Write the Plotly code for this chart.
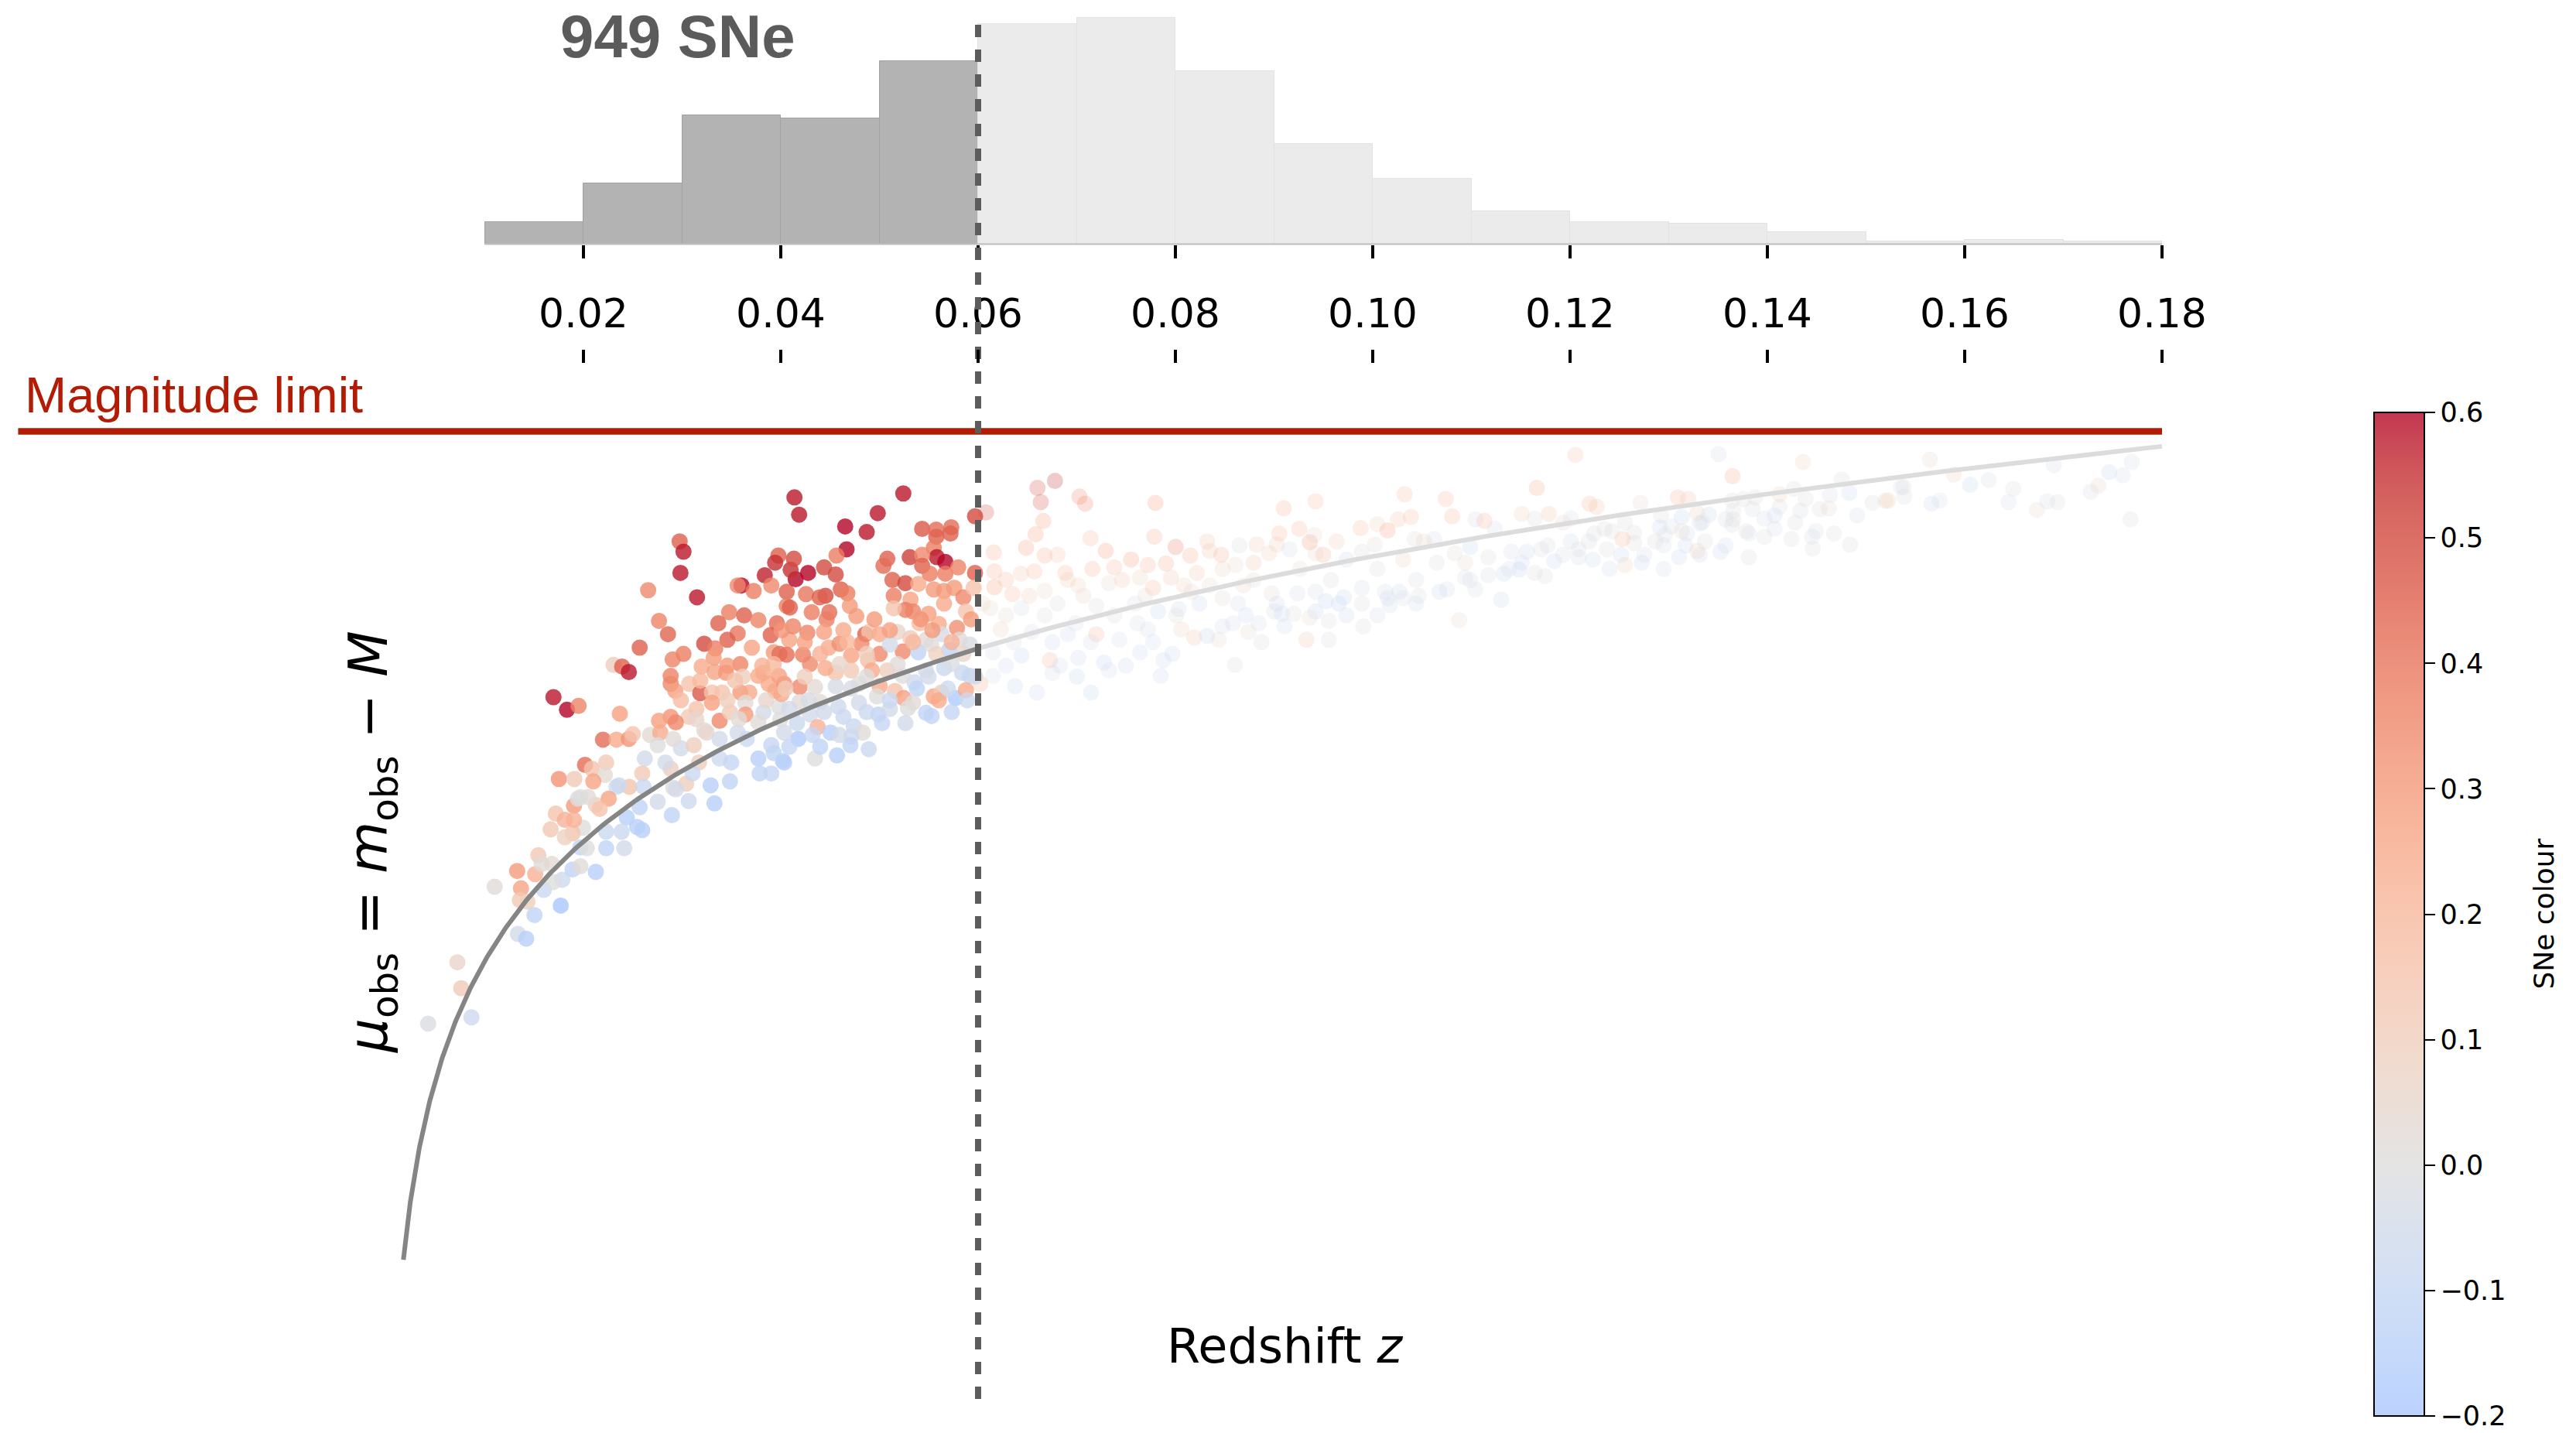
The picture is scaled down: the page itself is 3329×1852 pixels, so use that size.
import numpy as np
import plotly.graph_objects as go

# ---------------------------------------------------------------------------
# Redshift histogram of the full sample (counts per 0.01 bin)
# ---------------------------------------------------------------------------
hist_bin_left = [0.01, 0.02, 0.03, 0.04, 0.05, 0.06, 0.07, 0.08, 0.09,
                 0.10, 0.11, 0.12, 0.13, 0.14, 0.15, 0.16, 0.17]
hist_counts = [15, 41, 87, 85, 124, 149, 153, 117, 68, 44, 22, 15, 14, 8, 2, 3, 2]
HIST_BIN_WIDTH = 0.01

z_ticks = [0.02, 0.04, 0.06, 0.08, 0.10, 0.12, 0.14, 0.16, 0.18]
z_tick_text = ["0.02", "0.04", "0.06", "0.08", "0.10", "0.12", "0.14", "0.16", "0.18"]

colour_ticks = [-0.2, -0.1, 0.0, 0.1, 0.2, 0.3, 0.4, 0.5, 0.6]
colour_tick_text = ["\u22120.2", "\u22120.1", "0.0", "0.1", "0.2", "0.3", "0.4", "0.5", "0.6"]

Z_CUT = 0.06        # volume-limited cut
MAG_LIMIT = 39.91   # survey magnitude limit (in distance-modulus units)
COLOUR_MIN, COLOUR_MAX = -0.2, 0.6

# ---------------------------------------------------------------------------
# Supernovae inside the cut: redshift, distance modulus, colour
# ---------------------------------------------------------------------------
low_z = [
    0.02975, 0.03014, 0.02983, 0.02656, 0.03151, 0.03976, 0.03943, 0.03838, 0.03602, 0.03563,
    0.03725, 0.03904, 0.04060, 0.04060, 0.03477, 0.03629, 0.03773, 0.03367, 0.03961, 0.03563,
    0.03459, 0.03898, 0.03707, 0.04086, 0.02766, 0.02857, 0.03224, 0.03336, 0.02570, 0.03014,
    0.02904, 0.03320, 0.03198, 0.03590, 0.03929, 0.03987, 0.03328, 0.03445, 0.03616, 0.03825,
    0.02884, 0.02884, 0.02304, 0.02392, 0.02460, 0.02931, 0.03072, 0.03184, 0.03302, 0.03406,
    0.03590, 0.03681, 0.03773, 0.03943, 0.04034, 0.03877, 0.03642, 0.03302, 0.03642, 0.03145,
    0.03067, 0.02884, 0.02766, 0.02936, 0.03380, 0.03224, 0.03485, 0.03825, 0.03982, 0.01696,
    0.01833, 0.01951, 0.02369, 0.02198, 0.02335, 0.02460, 0.02500, 0.02675, 0.02779, 0.02622,
    0.02753, 0.02988, 0.03119, 0.03249, 0.03563, 0.03380, 0.03773, 0.03904, 0.04021, 0.03485,
    0.03289, 0.03328, 0.03067, 0.02896, 0.02753, 0.02570, 0.02439, 0.02596, 0.02335, 0.02465,
    0.02596, 0.02884, 0.02016, 0.02086, 0.02230, 0.02217, 0.02100, 0.01751, 0.01908, 0.01904,
    0.01969, 0.02125, 0.02256, 0.01720, 0.01812, 0.01668, 0.01995, 0.01890, 0.03171, 0.03904,
    0.04034, 0.03773, 0.02361, 0.02609, 0.02910, 0.03041, 0.03786, 0.02544, 0.02387, 0.02413,
    0.02230, 0.02230, 0.02165, 0.02047, 0.01943, 0.01904, 0.01812, 0.01969, 0.02034, 0.01543,
    0.01328, 0.01511, 0.01576, 0.01681, 0.01786, 0.01890, 0.01969, 0.02125, 0.01598, 0.01694,
    0.01367, 0.01355, 0.01433, 0.01100, 0.01770, 0.01504, 0.01336, 0.01420, 0.00722, 0.00761,
    0.00865, 0.00426, 0.02936, 0.04139, 0.04186, 0.05242, 0.04983, 0.04653, 0.04871, 0.04667,
    0.05433, 0.05576, 0.05728, 0.05720, 0.05576, 0.05551, 0.05582, 0.05668, 0.05307, 0.05080,
    0.05041, 0.04565, 0.04439, 0.04557, 0.04277, 0.04151, 0.04100, 0.04133, 0.04256, 0.04453,
    0.04395, 0.04609, 0.04675, 0.04092, 0.04314, 0.04492, 0.04465, 0.04700, 0.04766, 0.04125,
    0.04269, 0.04439, 0.04060, 0.04225, 0.04296, 0.04486, 0.04596, 0.04857, 0.04896, 0.05002,
    0.04818, 0.05002, 0.04714, 0.04884, 0.05132, 0.05263, 0.05145, 0.05315, 0.05394, 0.05263,
    0.05341, 0.05145, 0.05433, 0.05433, 0.05511, 0.05668, 0.05798, 0.05969, 0.05551, 0.05655,
    0.05759, 0.05851, 0.05955, 0.05655, 0.05877, 0.05498, 0.05406, 0.05602, 0.05786, 0.05184,
    0.05315, 0.05472, 0.05629, 0.05812, 0.05916, 0.05237, 0.05106, 0.05394, 0.05524, 0.05707,
    0.05655, 0.05838, 0.05916, 0.05472, 0.05355, 0.05237, 0.05080, 0.04923, 0.04714, 0.04557,
    0.04453, 0.04191, 0.03982, 0.04008, 0.04347, 0.04557, 0.04792, 0.05002, 0.05158, 0.05380,
    0.05551, 0.05629, 0.05773, 0.05877, 0.05245, 0.04975, 0.04792, 0.04583, 0.04400, 0.04191,
    0.04086, 0.03995, 0.04296, 0.04374, 0.04504, 0.04635, 0.04740, 0.04831, 0.04714, 0.04988,
    0.05106, 0.05289, 0.05341, 0.05472, 0.05529, 0.05602, 0.04178, 0.04034, 0.03929, 0.04347,
    0.04570, 0.04706, 0.04892, 0.05969,
]
low_mu = [
    38.51, 38.38, 38.11, 37.89, 37.80, 38.33, 38.24, 38.08, 37.95, 37.95,
    37.88, 37.95, 37.87, 37.69, 37.61, 37.57, 37.51, 37.47, 37.47, 37.34,
    37.26, 37.32, 37.16, 37.26, 37.50, 37.33, 37.21, 37.15, 37.16, 37.08,
    37.01, 37.03, 36.92, 36.95, 37.10, 37.08, 36.85, 36.84, 36.79, 36.84,
    36.80, 36.70, 36.94, 36.92, 36.85, 36.61, 36.70, 36.58, 36.59, 36.59,
    36.59, 36.59, 36.80, 36.61, 36.70, 36.70, 36.46, 36.46, 36.31, 36.38,
    36.28, 36.28, 36.23, 36.21, 36.23, 36.11, 36.34, 36.34, 36.41, 36.53,
    36.37, 36.42, 36.32, 35.99, 35.99, 36.00, 36.06, 36.05, 36.08, 35.75,
    35.92, 35.88, 35.92, 36.08, 36.08, 35.75, 35.75, 35.92, 35.72, 35.46,
    35.41, 35.18, 35.21, 35.03, 35.20, 35.13, 35.00, 34.84, 35.39, 35.39,
    35.56, 35.62, 35.67, 35.62, 35.70, 35.54, 35.46, 35.49, 35.49, 35.15,
    35.26, 35.16, 35.24, 35.05, 34.97, 34.85, 34.87, 34.80, 35.70, 35.56,
    36.08, 36.21, 35.41, 35.39, 35.38, 35.43, 35.56, 34.88, 34.82, 34.61,
    34.61, 34.82, 35.11, 35.26, 35.24, 34.97, 34.75, 34.62, 34.61, 34.52,
    34.32, 34.28, 34.41, 34.41, 34.21, 34.34, 34.38, 34.31, 34.08, 34.18,
    34.10, 33.95, 33.93, 34.12, 33.88, 33.76, 33.52, 33.46, 33.16, 32.83,
    32.46, 32.38, 35.36, 39.07, 38.85, 39.12, 38.87, 38.70, 38.63, 38.41,
    38.67, 38.66, 38.69, 38.61, 38.57, 38.43, 38.31, 38.25, 38.31, 38.29,
    38.20, 38.33, 38.18, 38.09, 38.11, 38.03, 38.15, 38.29, 37.84, 37.82,
    37.80, 37.90, 37.85, 37.67, 37.61, 37.61, 37.52, 37.69, 37.56, 37.43,
    37.35, 37.36, 37.07, 37.07, 36.95, 37.16, 37.21, 37.33, 37.36, 37.33,
    37.21, 37.08, 37.06, 37.00, 38.02, 37.98, 37.82, 37.77, 37.97, 37.64,
    37.62, 37.66, 38.34, 38.20, 38.10, 38.10, 38.18, 38.11, 37.90, 37.88,
    37.92, 37.80, 37.92, 37.72, 37.62, 37.59, 37.47, 37.46, 37.41, 37.36,
    37.28, 37.26, 37.33, 37.26, 37.20, 37.11, 37.20, 37.10, 37.20, 37.13,
    36.90, 36.84, 36.80, 36.87, 36.72, 36.80, 36.87, 36.87, 36.87, 36.84,
    36.90, 36.66, 36.80, 36.57, 36.66, 36.67, 36.70, 36.67, 36.61, 36.64,
    36.54, 36.59, 36.52, 36.62, 36.52, 36.54, 36.46, 36.41, 36.47, 36.47,
    36.38, 36.25, 36.31, 36.15, 36.08, 36.28, 36.16, 36.08, 36.03, 36.31,
    36.38, 36.39, 36.46, 36.33, 36.29, 36.49, 36.00, 35.70, 35.82, 35.75,
    35.79, 35.92, 35.87, 38.83,
]
low_colour = [
    0.45, 0.58, 0.58, 0.35, 0.58, 0.45, 0.55, 0.57, 0.60, 0.35,
    0.38, 0.35, 0.45, 0.38, 0.38, 0.45, 0.36, 0.45, 0.42, 0.40,
    0.45, 0.45, 0.27, 0.27, 0.36, 0.44, 0.50, 0.38, 0.45, 0.38,
    0.36, 0.30, 0.25, 0.36, 0.30, 0.42, 0.27, 0.30, 0.10, 0.25,
    0.37, 0.35, 0.10, 0.45, 0.58, 0.28, 0.15, 0.47, 0.15, 0.15,
    0.30, 0.25, 0.25, 0.27, 0.33, 0.25, 0.02, 0.28, 0.30, 0.15,
    0.12, 0.32, 0.28, 0.35, 0.35, 0.02, 0.12, -0.05, 0.00, 0.58,
    0.60, 0.36, 0.28, 0.42, 0.25, 0.32, 0.15, 0.03, 0.25, -0.05,
    0.00, -0.05, 0.10, 0.05, -0.05, -0.07, -0.15, -0.10, -0.12, -0.12,
    -0.15, -0.15, -0.07, -0.12, -0.05, -0.12, -0.15, -0.15, -0.07, 0.15,
    0.12, 0.10, 0.42, 0.15, 0.12, 0.03, 0.27, 0.32, 0.12, 0.30,
    0.00, 0.10, 0.27, 0.15, 0.22, 0.13, 0.00, 0.15, 0.10, -0.10,
    -0.05, 0.02, -0.08, -0.08, 0.00, 0.10, -0.12, -0.15, -0.08, -0.05,
    -0.12, -0.08, 0.15, 0.02, 0.00, 0.22, 0.08, -0.12, 0.00, 0.13,
    0.30, 0.22, 0.02, 0.03, -0.07, -0.12, 0.02, -0.15, -0.08, 0.00,
    0.27, 0.12, 0.10, 0.02, -0.20, -0.12, -0.05, -0.15, 0.06, 0.12,
    -0.07, -0.02, -0.05, 0.58, 0.58, 0.58, 0.58, 0.60, 0.58, 0.60,
    0.47, 0.42, 0.42, 0.45, 0.45, 0.38, 0.58, 0.60, 0.52, 0.45,
    0.42, 0.38, 0.50, 0.50, 0.60, 0.60, 0.55, 0.50, 0.40, 0.50,
    0.45, 0.45, 0.38, 0.45, 0.38, 0.42, 0.38, 0.30, 0.30, 0.36,
    0.36, 0.28, 0.42, 0.38, 0.35, 0.25, 0.33, 0.45, 0.15, 0.25,
    0.35, 0.35, 0.27, 0.18, 0.45, 0.50, 0.38, 0.27, 0.25, 0.38,
    0.36, 0.15, 0.35, 0.45, 0.38, 0.38, 0.36, 0.45, 0.30, 0.30,
    0.30, 0.35, 0.15, 0.25, 0.15, 0.28, 0.18, 0.25, 0.33, 0.05,
    0.12, 0.03, -0.03, 0.02, -0.03, 0.35, -0.05, -0.12, 0.00, -0.12,
    -0.08, -0.08, -0.10, -0.05, -0.07, 0.00, 0.10, 0.25, 0.12, 0.15,
    0.25, 0.35, 0.28, 0.25, 0.03, -0.03, 0.02, 0.25, 0.15, -0.12,
    0.27, 0.12, -0.18, 0.25, 0.28, 0.00, -0.05, -0.07, 0.02, 0.02,
    -0.05, 0.00, -0.05, 0.22, -0.15, -0.08, -0.08, 0.02, -0.07, -0.12,
    -0.05, 0.00, 0.02, -0.12, -0.12, 0.25, -0.18, -0.15, -0.12, 0.00,
    -0.15, -0.12, -0.08, 0.50,
]

# densely overlapping supernovae in the core of the inner cloud
low_core_z = [
    0.04949, 0.05420, 0.05929, 0.04008, 0.04635, 0.05106, 0.05537, 0.04243, 0.04675, 0.05341,
    0.05733, 0.04400, 0.04871, 0.05576, 0.05851, 0.03929, 0.04596, 0.05184, 0.05733, 0.04243,
    0.04871, 0.05498, 0.05969, 0.04047, 0.04714, 0.05694, 0.04282, 0.05106, 0.05890, 0.04439,
    0.04871, 0.05733, 0.04165, 0.05027, 0.05263, 0.04322, 0.04596, 0.04086, 0.04400, 0.03459,
    0.03812, 0.03184, 0.03537, 0.02988, 0.03459, 0.03851, 0.03145, 0.03576, 0.02910, 0.03380,
    0.03655, 0.02831, 0.03498, 0.03106,
]
low_core_mu = [
    37.52, 37.52, 37.52, 37.38, 37.38, 37.38, 37.38, 37.23, 37.23, 37.23,
    37.23, 37.08, 37.08, 37.08, 37.08, 36.95, 36.95, 36.95, 36.95, 36.79,
    36.79, 36.79, 36.79, 36.64, 36.64, 36.64, 36.49, 36.49, 36.49, 36.34,
    36.34, 36.34, 36.20, 36.20, 36.20, 36.05, 36.05, 35.90, 35.90, 36.93,
    36.93, 36.74, 36.74, 36.49, 36.49, 36.49, 36.25, 36.25, 36.00, 36.00,
    36.00, 35.70, 35.70, 35.56,
]
low_core_colour = [
    0.30, 0.32, 0.30, 0.32, 0.25, 0.28, 0.30, 0.28, 0.20, 0.20,
    0.22, 0.22, 0.10, 0.08, 0.05, 0.20, 0.05, 0.02, -0.02, 0.10,
    0.00, -0.05, -0.05, 0.12, -0.03, -0.07, -0.03, -0.08, -0.08, -0.06,
    -0.08, -0.10, -0.08, -0.10, -0.05, -0.10, -0.05, -0.10, -0.12, 0.30,
    0.22, 0.20, 0.15, 0.18, 0.10, 0.05, 0.05, 0.02, 0.02, -0.05,
    -0.08, -0.05, -0.10, -0.08,
]

# ---------------------------------------------------------------------------
# Supernovae beyond the cut (shown faded)
# ---------------------------------------------------------------------------
high_z = [
    0.06779, 0.06602, 0.06635, 0.06081, 0.07027, 0.07085, 0.06661, 0.06583, 0.07140, 0.07798,
    0.07786, 0.06159, 0.06486, 0.06675, 0.06805, 0.07294, 0.07551, 0.06165, 0.06434, 0.06570,
    0.06884, 0.07158, 0.07380, 0.07720, 0.06165, 0.06348, 0.06675, 0.07014, 0.07328, 0.07642,
    0.06125, 0.06439, 0.06805, 0.07198, 0.07590, 0.06230, 0.06544, 0.06910, 0.07198, 0.07433,
    0.07720, 0.06151, 0.06439, 0.06727, 0.07014, 0.07276, 0.07642, 0.07851, 0.06151, 0.06374,
    0.06753, 0.07002, 0.07328, 0.06021, 0.06047, 0.08002, 0.08151, 0.07904, 0.08347, 0.08465,
    0.09098, 0.09420, 0.10322, 0.10740, 0.11511, 0.08649, 0.08824, 0.09053, 0.09255, 0.09362,
    0.09406, 0.09634, 0.09877, 0.10047, 0.10151, 0.10256, 0.10387, 0.10805, 0.11041, 0.11132,
    0.11237, 0.09498, 0.09158, 0.09027, 0.08609, 0.08792, 0.09733, 0.09890, 0.10021, 0.10426,
    0.10622, 0.10988, 0.10649, 0.10308, 0.10936, 0.11171, 0.11406, 0.11511, 0.11328, 0.11171,
    0.10936, 0.10753, 0.11041, 0.11302, 0.10465, 0.10308, 0.10269, 0.10151, 0.10173, 0.09890,
    0.09890, 0.09655, 0.09707, 0.09524, 0.09420, 0.09362, 0.09555, 0.09904, 0.10876, 0.09328,
    0.09555, 0.08602, 0.07877, 0.07969, 0.08191, 0.08439, 0.08322, 0.08740, 0.08583, 0.08845,
    0.09080, 0.09002, 0.09198, 0.08975, 0.09237, 0.08478, 0.08243, 0.08034, 0.07825, 0.08086,
    0.08347, 0.08688, 0.07955, 0.08217, 0.07773, 0.08060, 0.12053, 0.11663, 0.13506, 0.13647,
    0.14361, 0.11786, 0.11642, 0.12008, 0.12198, 0.12269, 0.13093, 0.13198, 0.13642, 0.13759,
    0.13877, 0.14125, 0.14269, 0.14387, 0.14635, 0.14753, 0.14831, 0.15198, 0.15380, 0.14622,
    0.14531, 0.14335, 0.14910, 0.14125, 0.14073, 0.13969, 0.13851, 0.13655, 0.13642, 0.13406,
    0.13315, 0.13289, 0.13132, 0.12923, 0.12910, 0.13027, 0.13132, 0.13367, 0.13524, 0.13315,
    0.13289, 0.13171, 0.12962, 0.12863, 0.12727, 0.12753, 0.12649, 0.12557, 0.12518, 0.12649,
    0.12531, 0.12374, 0.12426, 0.12348, 0.12230, 0.12191, 0.12086, 0.12008, 0.11929, 0.11838,
    0.11707, 0.11563, 0.11485, 0.11642, 0.11747, 0.13576, 0.13655, 0.13786, 0.13969, 0.14073,
    0.14243, 0.14453, 0.14492, 0.14461, 0.14839, 0.15647, 0.15890, 0.15355, 0.15388, 0.15224,
    0.15663, 0.15747, 0.16055, 0.16243, 0.16492, 0.16445, 0.16732, 0.16837, 0.16941, 0.16904,
    0.17276, 0.17355, 0.17464, 0.17602, 0.17694, 0.17681,
]
high_mu = [
    39.28, 39.19, 39.01, 38.88, 39.08, 38.99, 38.77, 38.60, 38.55, 39.00,
    38.57, 38.37, 38.43, 38.33, 38.34, 38.39, 38.28, 38.13, 38.10, 38.13,
    38.11, 38.16, 38.18, 38.21, 37.93, 37.84, 37.88, 37.95, 37.98, 38.05,
    37.66, 37.66, 37.72, 37.69, 37.72, 37.39, 37.36, 37.33, 37.33, 37.26,
    37.39, 37.10, 37.06, 37.00, 37.03, 36.97, 37.10, 36.80, 36.80, 36.67,
    36.84, 36.79, 36.87, 36.70, 37.72, 38.44, 38.33, 38.23, 38.39, 38.34,
    38.93, 39.02, 39.11, 39.05, 38.86, 38.46, 38.47, 38.61, 38.67, 38.50,
    38.59, 38.51, 38.68, 38.73, 38.65, 38.79, 38.82, 38.83, 38.79, 38.77,
    38.67, 38.34, 38.41, 38.47, 38.21, 38.24, 38.28, 38.38, 38.47, 38.54,
    38.54, 38.44, 38.24, 38.28, 38.24, 38.31, 38.38, 38.24, 38.10, 38.08,
    38.05, 37.90, 37.90, 37.77, 37.82, 37.79, 37.87, 37.79, 37.70, 37.72,
    37.92, 37.72, 37.80, 37.75, 37.62, 37.54, 37.50, 37.43, 37.51, 37.26,
    37.26, 36.94, 37.00, 37.08, 37.29, 37.26, 37.31, 37.36, 37.47, 37.47,
    37.59, 37.62, 37.59, 37.85, 37.85, 37.79, 37.72, 37.65, 37.62, 37.95,
    37.95, 37.95, 38.05, 38.11, 37.92, 37.39, 39.61, 39.19, 39.62, 39.34,
    39.52, 38.86, 38.80, 38.80, 38.99, 38.95, 39.07, 39.05, 39.03, 39.05,
    39.07, 39.11, 39.18, 39.05, 39.10, 39.30, 39.13, 39.03, 39.20, 38.93,
    38.92, 38.90, 38.84, 38.95, 38.84, 38.80, 38.92, 38.79, 38.72, 38.85,
    38.74, 38.87, 38.82, 38.84, 38.69, 38.70, 38.64, 38.51, 38.38, 38.34,
    38.39, 38.46, 38.59, 38.51, 38.24, 38.34, 38.62, 38.21, 38.34, 38.49,
    38.54, 38.41, 38.64, 38.67, 38.28, 38.51, 38.41, 38.51, 38.34, 38.26,
    38.41, 38.38, 38.15, 38.11, 38.07, 38.79, 38.90, 38.64, 38.57, 38.67,
    38.54, 38.57, 38.64, 38.42, 38.47, 39.55, 39.36, 39.20, 39.08, 39.03,
    38.99, 39.03, 39.23, 39.29, 39.18, 39.01, 38.91, 39.02, 39.01, 39.48,
    39.14, 39.22, 39.39, 39.35, 39.52, 38.79,
]
high_colour = [
    0.55, 0.50, 0.50, 0.50, 0.35, 0.35, 0.30, 0.30, 0.20, 0.30,
    0.25, 0.25, 0.30, 0.25, 0.15, 0.30, 0.30, 0.25, 0.15, 0.20,
    0.20, 0.22, 0.20, 0.22, 0.30, 0.20, 0.05, 0.10, 0.05, 0.10,
    0.05, -0.05, 0.00, 0.00, -0.05, 0.10, -0.05, -0.08, 0.20, -0.05,
    -0.05, -0.05, -0.10, 0.20, -0.08, -0.10, -0.08, -0.08, -0.05, -0.10,
    -0.05, -0.10, -0.05, 0.25, 0.05, 0.38, 0.25, 0.25, 0.15, 0.22,
    0.22, 0.18, 0.18, 0.20, 0.10, 0.00, 0.12, 0.20, 0.20, 0.30,
    0.05, 0.12, 0.18, 0.10, 0.28, 0.15, 0.18, 0.20, -0.05, 0.20,
    -0.05, 0.22, -0.05, 0.10, 0.05, 0.15, -0.08, 0.00, 0.02, 0.00,
    -0.05, -0.10, 0.00, 0.10, 0.05, 0.00, -0.05, -0.08, -0.10, -0.03,
    -0.03, -0.05, -0.02, -0.07, 0.00, -0.02, -0.07, -0.08, -0.06, 0.00,
    -0.05, -0.12, -0.10, -0.10, -0.10, 0.05, 0.00, 0.00, 0.05, 0.15,
    0.00, 0.00, -0.08, -0.08, 0.15, 0.05, -0.10, 0.05, -0.05, -0.05,
    -0.10, -0.03, 0.00, 0.05, -0.05, 0.02, -0.08, -0.07, -0.10, 0.10,
    0.05, 0.08, 0.15, 0.15, 0.20, 0.10, 0.15, 0.25, -0.05, 0.25,
    0.10, 0.15, 0.00, -0.05, 0.20, 0.15, 0.20, 0.15, 0.00, 0.00,
    0.00, 0.10, 0.00, 0.00, -0.05, 0.00, -0.08, 0.10, 0.00, 0.05,
    0.00, -0.03, -0.05, 0.00, -0.08, -0.05, -0.03, 0.00, 0.00, -0.10,
    -0.08, 0.10, -0.10, 0.00, -0.08, -0.05, 0.05, 0.00, -0.08, -0.07,
    0.10, -0.07, -0.03, 0.00, -0.08, -0.05, 0.00, 0.10, -0.08, 0.00,
    0.20, 0.00, 0.00, 0.00, -0.07, 0.00, 0.00, -0.07, -0.03, -0.08,
    0.00, -0.07, -0.10, 0.00, 0.00, -0.03, 0.00, 0.00, 0.00, -0.05,
    0.00, -0.05, -0.05, 0.00, 0.00, 0.05, 0.10, -0.05, -0.02, 0.10,
    -0.08, -0.05, -0.10, -0.02, 0.00, -0.05, 0.05, -0.05, 0.00, -0.05,
    -0.05, 0.08, -0.10, -0.05, -0.05, 0.00,
]

# densely overlapping supernovae in the band around the model beyond the cut
high_core_z = [
    0.06282, 0.06910, 0.07459, 0.06518, 0.07067, 0.07694, 0.06282, 0.06675, 0.07380, 0.06988,
    0.07616, 0.06361, 0.06753, 0.07145, 0.07773, 0.06282, 0.06831, 0.07498, 0.06596, 0.07145,
    0.08322, 0.10518, 0.08949, 0.09420, 0.10831, 0.08478, 0.09263, 0.10047, 0.11380, 0.08792,
    0.09576, 0.10439, 0.10988, 0.08165, 0.09420, 0.10125, 0.10675, 0.08635, 0.09027, 0.10439,
    0.08008, 0.08714, 0.09733, 0.10047, 0.08478, 0.09106, 0.08871, 0.12714, 0.15067, 0.11929,
    0.12557, 0.13341, 0.14282, 0.12243, 0.13184, 0.13812, 0.14675, 0.11773, 0.12949, 0.13576,
    0.12086, 0.13106, 0.13812, 0.12400, 0.12949,
]
high_core_mu = [
    38.02, 38.02, 38.02, 37.82, 37.82, 37.82, 37.57, 37.57, 37.57, 37.47,
    37.47, 37.23, 37.23, 37.23, 37.23, 36.93, 36.93, 36.93, 36.59, 36.59,
    38.51, 38.51, 38.36, 38.36, 38.36, 38.16, 38.16, 38.16, 38.16, 38.02,
    38.02, 38.02, 38.02, 37.87, 37.87, 37.87, 37.87, 37.72, 37.72, 37.72,
    37.57, 37.57, 37.57, 37.57, 37.43, 37.43, 37.23, 39.00, 39.00, 38.75,
    38.75, 38.75, 38.75, 38.61, 38.61, 38.61, 38.61, 38.46, 38.46, 38.46,
    38.31, 38.31, 38.31, 38.16, 38.16,
]
high_core_colour = [
    0.20, 0.12, 0.15, 0.12, 0.08, 0.05, 0.05, 0.00, -0.02, -0.05,
    -0.03, -0.05, -0.08, -0.05, -0.06, -0.08, -0.06, -0.08, -0.08, -0.10,
    0.15, 0.08, 0.10, 0.05, 0.02, 0.10, 0.05, 0.00, -0.05, 0.02,
    0.00, -0.03, -0.05, 0.05, -0.05, -0.05, -0.08, -0.05, -0.08, -0.06,
    0.00, -0.08, -0.08, -0.05, -0.06, -0.06, 0.00, 0.05, 0.00, 0.05,
    0.00, -0.03, -0.03, -0.03, -0.05, -0.05, 0.00, -0.05, -0.05, -0.06,
    -0.05, -0.08, 0.00, -0.06, -0.04,
]

inner_z = low_z + low_core_z
inner_mu = low_mu + low_core_mu
inner_colour = low_colour + low_core_colour
outer_z = high_z + high_core_z
outer_mu = high_mu + high_core_mu
outer_colour = high_colour + high_core_colour

assert len(inner_z) == len(inner_mu) == len(inner_colour)
assert len(outer_z) == len(outer_mu) == len(outer_colour)

# ---------------------------------------------------------------------------
# Cosmological model: luminosity distance with a deceleration-parameter term
# ---------------------------------------------------------------------------
H0 = 70.0
Q0 = -0.55
C_KMS = 299792.458


def distance_modulus(z):
    z = np.asarray(z, dtype=float)
    d_l = C_KMS * z / H0 * (1.0 + 0.5 * (1.0 - Q0) * z)
    return 5.0 * np.log10(d_l) + 25.0


# coolwarm diverging map (Moreland control points, evenly spaced)
COOLWARM_RGB = [
    (59, 76, 192), (68, 90, 204), (77, 104, 215), (87, 117, 225), (98, 130, 234),
    (108, 142, 241), (119, 154, 247), (130, 165, 251), (141, 176, 254), (152, 185, 255),
    (163, 194, 255), (174, 201, 253), (184, 208, 249), (194, 213, 244), (204, 217, 238),
    (213, 219, 230), (221, 221, 221), (229, 216, 209), (236, 211, 197), (241, 204, 185),
    (245, 196, 173), (247, 187, 160), (247, 177, 148), (247, 166, 135), (244, 154, 123),
    (241, 141, 111), (236, 127, 99), (229, 112, 88), (222, 96, 77), (213, 80, 66),
    (203, 62, 56), (192, 40, 47), (180, 4, 38),
]


def coolwarm_scale(alpha, half_range=0.6, n=33):
    """Colour scale for [COLOUR_MIN, COLOUR_MAX] with the map centred on zero."""
    pos = np.linspace(0.0, 1.0, len(COOLWARM_RGB))
    rgb = np.array(COOLWARM_RGB, dtype=float)
    vals = np.linspace(COLOUR_MIN, COLOUR_MAX, n)
    t = (vals + half_range) / (2.0 * half_range)
    scale = []
    for i, ti in enumerate(t):
        r, g, b = (np.interp(ti, pos, rgb[:, k]) for k in range(3))
        scale.append([i / (n - 1), f"rgba({r:.0f},{g:.0f},{b:.0f},{alpha})"])
    return scale


# ---------------------------------------------------------------------------
# Canvas geometry (pixels -> paper / data ranges)
# ---------------------------------------------------------------------------
W, H = 3329, 1852


def px_x(px):
    return px / W


def px_y(py):
    return 1.0 - py / H


X_RANGE = [-0.039137, 0.221961]
Y_COUNT_RANGE = [-804.28, 165.15]
Y_MU_RANGE = [27.1756, 45.3932]

FONT = "DejaVu Sans"
SANS = "Liberation Sans, Arial, Helvetica, sans-serif"
RED = "#b41b04"
MARKER_SIZE = 21

fig = go.Figure()

# histogram bars
bar_fill = ["#b3b3b3" if left < Z_CUT - 1e-9 else "#ebebeb" for left in hist_bin_left]
bar_edge = ["#a2a2a2" if left < Z_CUT - 1e-9 else "#e2e2e2" for left in hist_bin_left]
fig.add_trace(go.Bar(
    x=[left + HIST_BIN_WIDTH / 2 for left in hist_bin_left],
    y=hist_counts,
    width=HIST_BIN_WIDTH,
    marker=dict(color=bar_fill, line=dict(color=bar_edge, width=1)),
    xaxis="x", yaxis="y", hoverinfo="skip", showlegend=False,
))

# faded supernovae beyond the cut
fig.add_trace(go.Scatter(
    x=outer_z, y=outer_mu, mode="markers",
    marker=dict(size=MARKER_SIZE, color=outer_colour, colorscale=coolwarm_scale(0.25),
                cmin=COLOUR_MIN, cmax=COLOUR_MAX, line=dict(width=0), showscale=False),
    xaxis="x", yaxis="y2", hoverinfo="skip", showlegend=False,
))

# model curve beyond the cut (light)
z_out = np.linspace(Z_CUT, 0.18, 200)
fig.add_trace(go.Scatter(
    x=z_out, y=distance_modulus(z_out), mode="lines",
    line=dict(color="#dcdcdc", width=6),
    xaxis="x", yaxis="y2", hoverinfo="skip", showlegend=False,
))

# supernovae inside the cut with colour bar
fig.add_trace(go.Scatter(
    x=inner_z, y=inner_mu, mode="markers",
    marker=dict(
        size=MARKER_SIZE, color=inner_colour, colorscale=coolwarm_scale(0.8),
        cmin=COLOUR_MIN, cmax=COLOUR_MAX, line=dict(width=0), showscale=True,
        colorbar=dict(
            x=px_x(3068), xanchor="left", xpad=0,
            y=px_y(1181.5), yanchor="middle", ypad=0,
            len=1297, lenmode="pixels", thickness=65, thicknessmode="pixels",
            outlinewidth=2, outlinecolor="black",
            tickmode="array", tickvals=colour_ticks, ticktext=colour_tick_text,
            ticks="outside", ticklen=13, tickwidth=2, tickcolor="black",
            tickfont=dict(family=FONT, size=35, color="black"),
        ),
    ),
    xaxis="x", yaxis="y2", hoverinfo="skip", showlegend=False,
))

# model curve inside the cut (dark)
z_in = np.geomspace(0.00175, Z_CUT, 300)
fig.add_trace(go.Scatter(
    x=z_in, y=distance_modulus(z_in), mode="lines",
    line=dict(color="#858585", width=6),
    xaxis="x", yaxis="y2", hoverinfo="skip", showlegend=False,
))

# magnitude limit
fig.add_trace(go.Scatter(
    x=[-0.0373, 0.18], y=[MAG_LIMIT, MAG_LIMIT], mode="lines",
    line=dict(color=RED, width=8.5),
    xaxis="x", yaxis="y2", hoverinfo="skip", showlegend=False,
))

# short upward ticks above the scatter panel, at the same redshifts
scatter_ticks = [
    dict(type="line", xref="x", yref="paper", x0=z, x1=z, y0=px_y(469), y1=px_y(452),
         line=dict(color="black", width=4), layer="above")
    for z in z_ticks
]

fig.update_layout(
    width=W, height=H, autosize=False,
    margin=dict(l=0, r=0, t=0, b=0, pad=0),
    paper_bgcolor="white", plot_bgcolor="white",
    showlegend=False, bargap=0,
    font=dict(family=FONT, color="black"),
    xaxis=dict(
        domain=[0, 1], range=X_RANGE, anchor="free", position=px_y(315.5),
        showline=False, showgrid=False, zeroline=False,
        ticks="outside", ticklen=17, tickwidth=4, tickcolor="black",
        tickmode="array", tickvals=z_ticks, ticktext=z_tick_text,
        tickfont=dict(family=FONT, size=52, color="black"),
        ticklabelstandoff=27,
    ),
    yaxis=dict(domain=[0, 1], range=Y_COUNT_RANGE, visible=False),
    yaxis2=dict(overlaying="y", range=Y_MU_RANGE, visible=False),
    shapes=[
        dict(type="line", xref="x", yref="y", x0=0.01, x1=0.18, y0=0, y1=0,
             line=dict(color="#bdbdbd", width=2), layer="above"),
        dict(type="line", xref="x", yref="paper", x0=Z_CUT, x1=Z_CUT,
             y0=px_y(32), y1=px_y(1809),
             line=dict(color="#5c5c5c", width=8, dash="16px,16px"), layer="above"),
    ] + scatter_ticks,
    annotations=[
        dict(text=f"<b>{sum(hist_counts)} SNe</b>", xref="paper", yref="paper",
             x=px_x(722), y=px_y(47), xanchor="left", yanchor="middle",
             showarrow=False, font=dict(family=SANS, size=78, color="#5b5b5b")),
        dict(text="Magnitude limit", xref="paper", yref="paper",
             x=px_x(30), y=px_y(510), xanchor="left", yanchor="middle",
             showarrow=False, font=dict(family=SANS, size=65, color=RED)),
        dict(text="Redshift <i>z</i>", xref="paper", yref="paper",
             x=px_x(1660), y=px_y(1739), xanchor="center", yanchor="middle",
             showarrow=False, font=dict(family=FONT, size=62, color="black")),
        dict(text="<i>\u03bc</i><sub>obs</sub> = <i>m</i><sub>obs</sub> \u2212 <i>M</i>",
             xref="paper", yref="paper", x=px_x(480), y=px_y(1088),
             xanchor="center", yanchor="middle", textangle=-90,
             showarrow=False, font=dict(family=FONT, size=69, color="black")),
        dict(text="SNe colour", xref="paper", yref="paper",
             x=px_x(3287), y=px_y(1181.5), xanchor="center", yanchor="middle",
             textangle=-90, showarrow=False,
             font=dict(family=FONT, size=36, color="black")),
    ],
)

fig.write_html("out.html")
